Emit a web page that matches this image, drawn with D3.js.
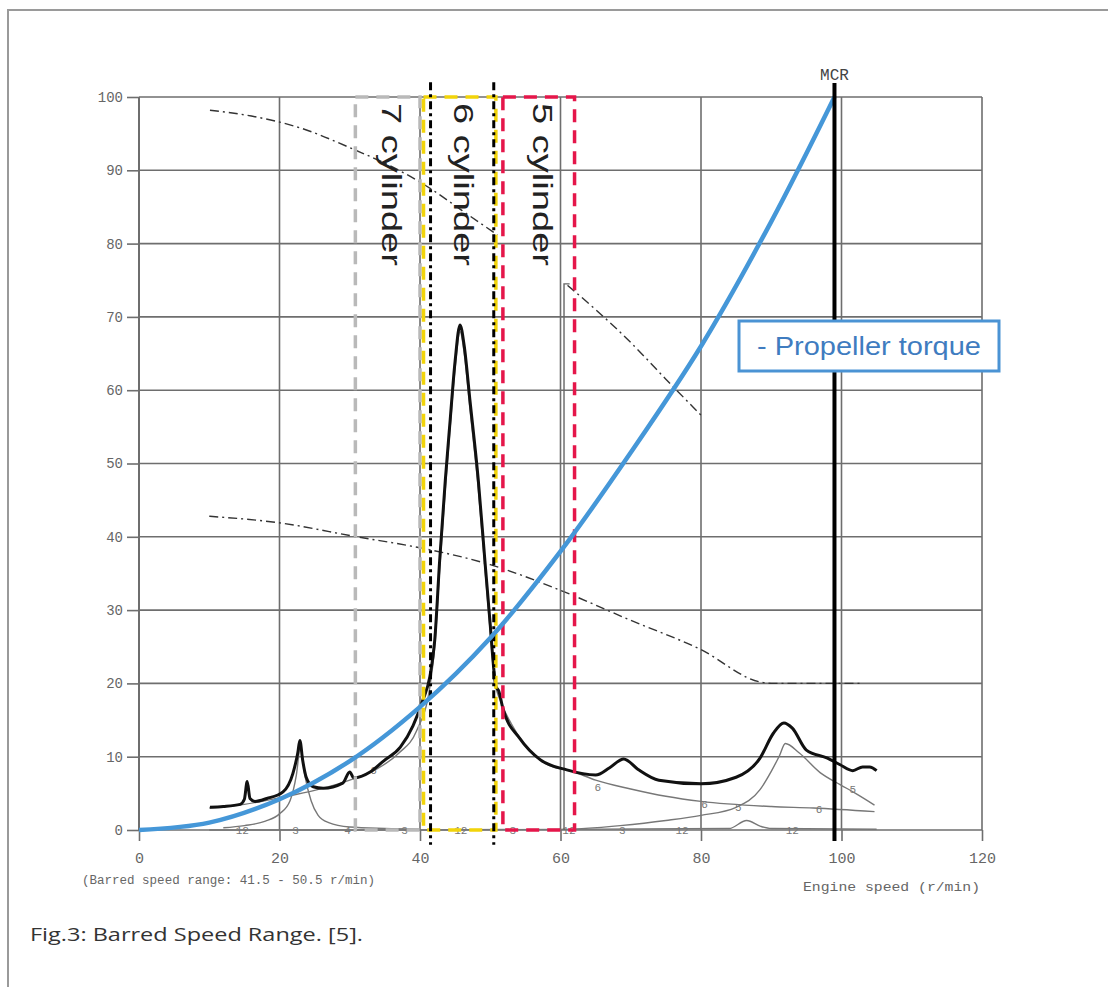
<!DOCTYPE html>
<html><head><meta charset="utf-8">
<script src="https://cdn.jsdelivr.net/npm/d3@7"></script>
<style>html,body{margin:0;padding:0;background:#fff;}</style>
</head><body>
<svg id="c" width="1108" height="987"></svg>
<script>
// ---- data ----
const xTicks = [0, 20, 40, 60, 80, 100, 120];
const yTicks = [0, 10, 20, 30, 40, 50, 60, 70, 80, 90, 100];
const propellerTorque = [[0,0],[10,1],[20,4.2],[30,9.4],[40,16.8],[50,26.2],[60,38],[70,51.5],[80,66],[90,83],[99,100]];
const totalResponse = [[10.1,3.1],[12,3.2],[14.4,3.5],[15,4.2],[15.4,6.6],[15.8,4.3],[16.5,3.9],[18.2,4.3],[20.5,5.2],[21.9,7.7],[22.6,10.5],[22.9,12.2],[23.3,9.5],[23.8,7.2],[24.8,5.9],[26.2,5.7],[29,6.4],[30,7.9],[30.6,7.1],[32.9,7.9],[34.8,9.4],[37.2,11.3],[39,14.2],[40.4,17.7],[41.4,20.9],[42.1,25.9],[42.8,36.8],[43.6,47.7],[44.3,56],[45,64],[45.7,68.9],[46.3,66],[47.1,58.7],[48.3,47.7],[49.3,36],[50,28],[50.5,22],[50.8,19.6],[51.2,19],[51.8,16.6],[54.2,12.5],[57.1,9.6],[60.9,8.2],[65,7.5],[67,8.5],[69,9.7],[71,8.3],[74,6.8],[80,6.3],[85,7.2],[88.4,9.8],[90.3,13.2],[91.8,14.6],[93,13.9],[95,10.9],[98,9.8],[99.8,8.9],[101.6,8.1],[103,8.6],[104,8.6],[105,8.1]];
const order3Peak = [[12,0.3],[15,0.6],[18,1.2],[20,2.2],[21.5,4],[22.4,7.5],[23,11.5],[23.6,7.5],[24.5,4],[25.5,2],[27,1],[30,0.4],[35,0.2],[40,0.1]];
const order6 = [[10,3],[15,3.5],[20,4.4],[25,5.4],[30,6.8],[34,8.4],[37,10.5],[39.5,13.5],[41.4,19.5],[42.1,25],[42.8,35.5],[43.6,46.5],[44.3,55],[45,63],[45.7,68],[46.3,65],[47.1,57.5],[48.3,46.5],[49.3,35],[50,27],[50.6,20.5],[51.5,17.5],[53,14.5],[55,11.5],[58,9],[62,7.9],[65,6.8],[70,5.6],[75,4.6],[80,3.9],[90,3.2],[96,3],[104.7,2.5]];
const order5 = [[62,0.1],[68.5,0.6],[75,1.3],[80,2],[85,3.1],[88.4,5.5],[90,8],[91.2,10.2],[92,11.8],[94,10.5],[97,7.8],[99.8,6.2],[102,5],[104.7,3.4]];
const order12 = [[10,0],[40,0],[84,0.2],[86.5,1.3],[88.5,0.5],[90,0.2],[105,0.1]];
const limitUpperA = [[10.1,98.2],[16,97.4],[22.9,95.8],[30.7,92.8],[36,90.5],[41.5,87.5],[46,84.5],[51,81.2]];
const limitUpperB = [[61,74.3],[65,71],[70,66.5],[75,61.5],[80,56.6]];
const limitLower = [[10,42.8],[20,41.9],[31,40],[40,38.5],[50,36.2],[60,32.7],[70,28.6],[80,24.6],[88.4,20.2],[90,20],[103,20]];
const cylinderLabels = ["7 cylinder", "6 cylinder", "5 cylinder"];
const cylinderFrom = [30.8, 40.5, 51.8];
const cylinderTo = [40, 50.8, 62];
const barredRange = [41.5, 50.5];
const mcrSpeed = 99;
const auxLineSpeed = 60.5, auxLineTop = 74.5;
const orderLabels = [["12",14.7,0],["3",22.3,0],["4",29.7,0],["3",37.8,0],["12",45.8,0],["3",53.2,0],["12",61.2,0],["3",68.8,0],["12",77.3,0],["12",93,0],["6",33.4,8.2],["6",65.3,5.9],["6",80.5,3.6],["5",85.3,3.2],["6",96.8,2.9],["5",101.6,5.6]];

// ---- drawing ----
const svg = d3.select("#c");
const x = d3.scaleLinear().domain([0,120]).range([139,982]);
const y = d3.scaleLinear().domain([0,100]).range([830,97]);
const mono = "'Liberation Mono','DejaVu Sans Mono',monospace";

svg.append("rect").attr("width",1108).attr("height",987).attr("fill","#fff");
// outer frame
svg.append("path").attr("d","M8,987V10H1108").attr("fill","none").attr("stroke","#9a9a9a").attr("stroke-width",2);

// grid
const g = svg.append("g");
g.selectAll(".hg").data(yTicks).join("line")
  .attr("x1",x(0)).attr("x2",x(120)).attr("y1",d=>y(d)).attr("y2",d=>y(d))
  .attr("stroke","#6e6e6e").attr("stroke-width",1.6);
g.selectAll(".vg").data(xTicks).join("line")
  .attr("x1",d=>x(d)).attr("x2",d=>x(d)).attr("y1",y(100)).attr("y2",y(0))
  .attr("stroke","#6e6e6e").attr("stroke-width",d=>d===0?2:1.6);

// axes (ticks + labels)
const ya = svg.append("g").attr("transform",`translate(${x(0)},0)`)
  .call(d3.axisLeft(y).tickValues(yTicks).tickSize(12).tickPadding(4));
ya.select(".domain").remove();
ya.selectAll("line").attr("stroke","#6e6e6e").attr("stroke-width",1.6);
ya.selectAll("text").attr("font-family",mono).attr("font-size",14).attr("fill","#666");
const xa = svg.append("g").attr("transform",`translate(0,${y(0)})`)
  .call(d3.axisBottom(x).tickValues(xTicks).tickSize(11).tickPadding(11));
xa.select(".domain").remove();
xa.selectAll("line").attr("stroke","#6e6e6e").attr("stroke-width",1.6);
xa.selectAll("text").attr("font-family",mono).attr("font-size",15).attr("fill","#666");

svg.append("text").attr("x",82).attr("y",884).attr("font-family",mono).attr("font-size",12.5)
  .attr("fill","#666").attr("textLength",293).attr("lengthAdjust","spacingAndGlyphs")
  .text("(Barred speed range: 41.5 - 50.5 r/min)");
svg.append("text").attr("x",803).attr("y",891).attr("font-family",mono).attr("font-size",13.5)
  .attr("fill","#666").attr("textLength",177).attr("lengthAdjust","spacingAndGlyphs")
  .text("Engine speed (r/min)");

const line = d3.line().x(d=>x(d[0])).y(d=>y(d[1])).curve(d3.curveMonotoneX);

// thin order curves
[order3Peak, order6, order5, order12].forEach(s=>{
  svg.append("path").attr("d",line(s)).attr("fill","none").attr("stroke","#777").attr("stroke-width",1.4);
});
// order labels
svg.selectAll(".ol").data(orderLabels).join("text")
  .attr("x",d=>x(d[1])).attr("y",d=>y(d[2])+4).attr("text-anchor","middle")
  .attr("font-family",mono).attr("font-size",11).attr("fill","#777").text(d=>d[0]);

// limit dash-dot curves
[limitUpperA, limitUpperB, limitLower].forEach(s=>{
  svg.append("path").attr("d",line(s)).attr("fill","none").attr("stroke","#333")
    .attr("stroke-width",1.4).attr("stroke-dasharray","9,4,2,4");
});
// auxiliary thin vertical line
svg.append("path").attr("d",`M${x(auxLineSpeed)},${y(0)}V${y(auxLineTop)}H${x(auxLineSpeed+0.8)}`)
  .attr("fill","none").attr("stroke","#666").attr("stroke-width",1.4);

// total response (thick black)
svg.append("path").attr("d",line(totalResponse)).attr("fill","none").attr("stroke","#111")
  .attr("stroke-width",3).attr("stroke-linejoin","round");

// cylinder boxes
const boxColors = ["#b9b9b9","#f2d40a","#e5164a"];
cylinderLabels.forEach((lab,i)=>{
  svg.append("rect").attr("x",x(cylinderFrom[i])).attr("y",y(100))
    .attr("width",x(cylinderTo[i])-x(cylinderFrom[i])).attr("height",y(0)-y(100))
    .attr("fill","none").attr("stroke",boxColors[i]).attr("stroke-width",3.5)
    .attr("stroke-dasharray","13,8");
});
// barred range lines
barredRange.forEach(v=>{
  svg.append("line").attr("x1",x(v)).attr("x2",x(v)).attr("y1",y(102)).attr("y2",y(-2))
    .attr("stroke","#000").attr("stroke-width",3).attr("stroke-dasharray","8,4,3,4");
});
// cylinder labels
cylinderLabels.forEach((lab,i)=>{
  const cx = (x(cylinderFrom[i])+x(cylinderTo[i]))/2 - 6;
  svg.append("text").attr("transform",`translate(${cx},103) rotate(90)`)
    .attr("font-family","'Liberation Sans',Arial,sans-serif").attr("font-size",27)
    .attr("fill","#222").attr("textLength",163).attr("lengthAdjust","spacingAndGlyphs").text(lab);
});

// propeller torque
svg.append("path").attr("d",d3.line().x(d=>x(d[0])).y(d=>y(d[1])).curve(d3.curveCatmullRom)(propellerTorque))
  .attr("fill","none").attr("stroke","#4597d8").attr("stroke-width",4.5);

// MCR
svg.append("line").attr("x1",x(mcrSpeed)).attr("x2",x(mcrSpeed)).attr("y1",83).attr("y2",y(-1.5))
  .attr("stroke","#000").attr("stroke-width",4);
svg.append("text").attr("x",x(mcrSpeed)).attr("y",80).attr("text-anchor","middle")
  .attr("font-family",mono).attr("font-size",16).attr("fill","#444").text("MCR");

// legend
svg.append("rect").attr("x",739).attr("y",321).attr("width",260).attr("height",50)
  .attr("fill","#fff").attr("stroke","#4a93d4").attr("stroke-width",3);
svg.append("text").attr("x",757).attr("y",355).attr("font-family","'Liberation Sans',Arial,sans-serif")
  .attr("font-size",26).attr("fill","#3f7cc0").attr("textLength",224).attr("lengthAdjust","spacingAndGlyphs")
  .text("- Propeller torque");

// caption
svg.append("text").attr("x",30).attr("y",941).attr("font-family","'Open Sans',sans-serif")
  .attr("font-size",18).attr("fill","#333").attr("textLength",333).attr("lengthAdjust","spacingAndGlyphs")
  .text("Fig.3: Barred Speed Range. [5].");
</script>
</body></html>
